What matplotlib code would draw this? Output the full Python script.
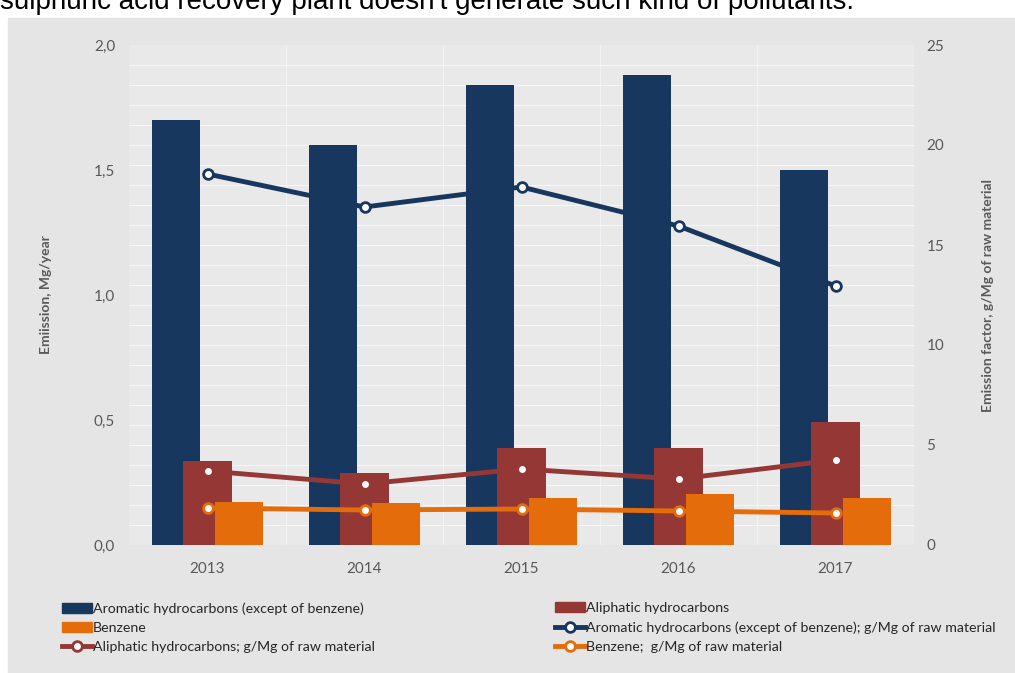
import numpy as np
import matplotlib.pyplot as plt
from matplotlib.patches import Rectangle
from matplotlib.lines import Line2D
from matplotlib.ticker import FuncFormatter

plt.rcParams['font.family'] = ['Lato', 'DejaVu Sans']

years = ['2013', '2014', '2015', '2016', '2017']

# emisja, Mg/rok (lewa os)
aromatic = [1.70, 1.60, 1.84, 1.88, 1.50]
aliphatic = [0.336, 0.288, 0.388, 0.388, 0.492]
benzene = [0.172, 0.168, 0.188, 0.204, 0.188]

# wskaznik emisji, g/Mg surowca (prawa os)
aromatic_ef = [18.55, 16.9, 17.9, 15.95, 12.95]
aliphatic_ef = [3.7, 3.05, 3.8, 3.3, 4.25]
benzene_ef = [1.85, 1.75, 1.8, 1.7, 1.6]

navy = '#17375E'
red = '#953735'
orange = '#E46C0A'
txt = '#595959'

fig = plt.figure(figsize=(10.15, 6.73), dpi=100)
fig.patches.append(Rectangle((8/1015, 0), 1 - 8/1015, 1 - 18/673,
                             transform=fig.transFigure, color='#E5E5E5', zorder=-10))
# naglowek ucięty u gory, jak na oryginale
fig.text(0.0, 1 - 9/673, "sulphuric acid recovery plant doesn't generate such kind of pollutants.",
         fontsize=20, family='Liberation Sans', va='baseline', color='black')

ax = fig.add_axes([129/1015, 1 - 545/673, 785/1015, 500/673])
ax.set_facecolor('#E9E9E9')
ax2 = ax.twinx()

x = np.arange(len(years))
w = 0.306
ax.bar(x - 0.2, aromatic, w, color=navy, zorder=3)
ax.bar(x, aliphatic, w, color=red, zorder=3)
ax.bar(x + 0.2, benzene, w, color=orange, zorder=3)

# siatka
for v in np.arange(0.08, 2.0, 0.08):
    ax.axhline(v, color='white', lw=0.8, alpha=0.6, zorder=1)
for b in np.arange(0.5, 4.6, 1.0):
    ax.axvline(b, color='white', lw=0.6, alpha=0.5, zorder=1)

lk = dict(lw=3.5, marker='o', ms=7, mfc='white', mew=2, zorder=5)
ax2.plot(x, aromatic_ef, color=navy, **lk)
ax2.plot(x, aliphatic_ef, color=red, **lk)
ax2.plot(x, benzene_ef, color=orange, **lk)

ax.set_xlim(-0.5, 4.5)
ax.set_ylim(0, 2.0)
ax2.set_ylim(0, 25)
ax.set_xticks(x)
ax.set_xticklabels(years)
ax.set_yticks([0, 0.5, 1.0, 1.5, 2.0])
ax.yaxis.set_major_formatter(FuncFormatter(lambda v, p: f'{v:.1f}'.replace('.', ',')))
ax2.set_yticks([0, 5, 10, 15, 20, 25])

for a in (ax, ax2):
    for s in a.spines.values():
        s.set_visible(False)
    a.tick_params(length=0, labelsize=11, colors=txt)
ax.tick_params(axis='y', pad=10)
ax.tick_params(axis='x', pad=12)
ax2.tick_params(axis='y', pad=9)

ax.set_ylabel('Emiission, Mg/year', fontsize=10, fontweight='bold', color=txt, labelpad=30)
ax2.set_ylabel('Emission factor, g/Mg of raw material', fontsize=10, fontweight='bold',
               color=txt, labelpad=27)

def bar_h(c):
    return Rectangle((0, 0), 1, 1, color=c)

def line_h(c):
    return Line2D([], [], color=c, lw=3.5, marker='o', ms=7, mfc='white', mew=2)

lg = dict(frameon=False, fontsize=10.2, handlelength=2.1, handletextpad=0.1,
          labelspacing=0.5, borderaxespad=0, borderpad=0, labelcolor='#262626')
fig.legend([bar_h(navy), bar_h(orange), line_h(red)],
           ['Aromatic hydrocarbons (except of benzene)', 'Benzene',
            'Aliphatic hydrocarbons; g/Mg of raw material'],
           loc='upper left', bbox_to_anchor=(62/1015, 1 - 602/673), **lg)
fig.legend([bar_h(red), line_h(navy), line_h(orange)],
           ['Aliphatic hydrocarbons',
            'Aromatic hydrocarbons (except of benzene); g/Mg of raw material',
            'Benzene;  g/Mg of raw material'],
           loc='upper left', bbox_to_anchor=(555/1015, 1 - 602/673), **lg)

fig.savefig('out.png', dpi=100)
